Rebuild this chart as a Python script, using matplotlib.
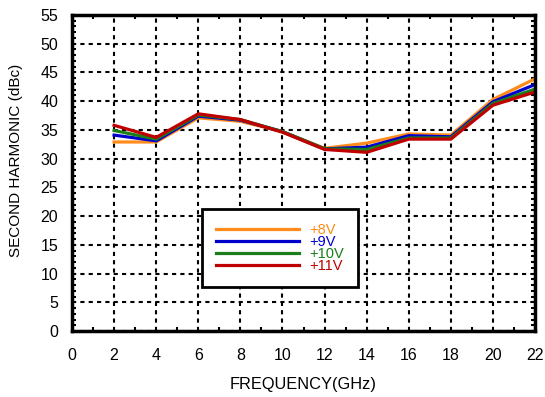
import matplotlib
matplotlib.use("Agg")
import matplotlib.pyplot as plt
from matplotlib.ticker import MultipleLocator

plt.rcParams['font.family'] = ['Liberation Sans', 'DejaVu Sans']

freq = [2, 4, 6, 8, 10, 12, 14, 16, 18, 20, 22]
v8 = [32.9, 32.9, 37.1, 36.5, 34.7, 31.8, 32.7, 34.3, 34.1, 40.3, 43.9]
v9 = [34.1, 33.1, 37.4, 36.7, 34.7, 31.7, 32.0, 34.0, 33.8, 39.9, 42.9]
v10 = [34.9, 33.4, 37.6, 36.8, 34.7, 31.7, 31.6, 33.6, 33.6, 39.6, 42.1]
v11 = [35.8, 33.7, 37.8, 36.8, 34.6, 31.6, 31.1, 33.4, 33.4, 39.3, 41.6]
labels = ['+8V', '+9V', '+10V', '+11V']
colors = ['#FF8C1A', '#0000CC', '#1A7F1A', '#C00000']
xticks = list(range(0, 23, 2))
yticks = list(range(0, 56, 5))

fig = plt.figure(figsize=(5.45, 3.97), dpi=100)
ax = fig.add_axes([0.1321, 0.1662, 0.8496, 0.7960])

for ys, lab, c in zip([v8, v9, v10, v11], labels, colors):
    ax.plot(freq, ys, color=c, lw=2.3, label=lab, solid_joinstyle='miter')

ax.set_xlim(0, 22)
ax.set_ylim(0, 55)
ax.set_xticks(xticks)
ax.set_yticks(yticks)
ax.xaxis.set_minor_locator(MultipleLocator(1))
ax.yaxis.set_minor_locator(MultipleLocator(1))
ax.grid(True, which='major', color='black', linestyle=(0, (2, 2)), lw=1.5)
ax.set_axisbelow(True)
ax.tick_params(which='major', length=0, labelsize=11.5)
ax.tick_params(axis='x', which='major', pad=12)
ax.tick_params(axis='y', which='major', pad=10)
ax.tick_params(which='minor', direction='in', length=3, width=1.5,
               top=True, right=True, color='black')
for s in ax.spines.values():
    s.set_linewidth(2.5)

ax.set_xlabel('FREQUENCY(GHz)', fontsize=11.8, labelpad=10)
ax.set_ylabel('SECOND HARMONIC (dBc)', fontsize=11)
ax.yaxis.set_label_coords(-0.106, 0.541)

leg = ax.legend(loc='center', bbox_to_anchor=(0.2806, 0.136, 0.337, 0.253),
                fontsize=10.5, handlelength=5.7, handletextpad=0.75,
                labelspacing=-0.15, fancybox=False, framealpha=1,
                edgecolor='black', labelcolor='linecolor', borderpad=0.95,
                borderaxespad=0)
leg.get_frame().set_linewidth(2)

fig.savefig('out.png', dpi=100)
